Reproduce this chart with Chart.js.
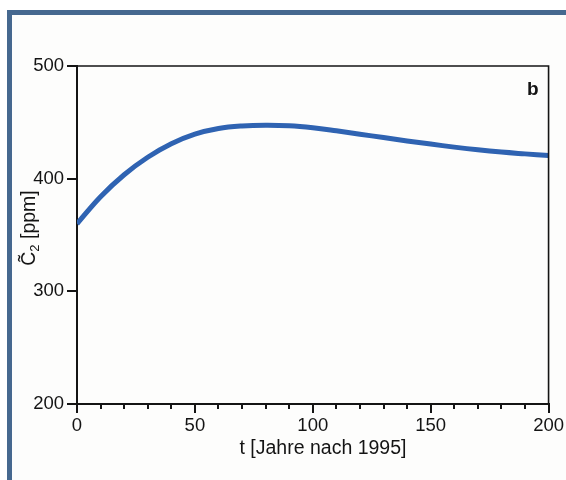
<!DOCTYPE html>
<html>
<head>
<meta charset="utf-8">
<script src="https://cdn.jsdelivr.net/npm/chart.js@4/dist/chart.umd.min.js"></script>
<style>
  html, body { margin: 0; padding: 0; background: #ffffff; }
  #wrap { position: relative; width: 566px; height: 480px; overflow: hidden; }
  #frame {
    position: absolute; left: 7px; top: 10px; right: 0; bottom: 0;
    border-top: 5px solid #46688f; border-left: 5px solid #46688f;
    background: #fdfdfc;
  }
  #c { position: absolute; left: 0; top: 0; }
</style>
</head>
<body>
<div id="wrap">
  <div id="frame"></div>
  <canvas id="c" width="566" height="480"></canvas>
</div>
<script>
// CO2 concentration scenario: years after 1995 vs. ppm
const tYears = [0, 10, 20, 30, 40, 50, 60, 70, 80, 90, 100, 110, 120, 130, 140, 150, 160, 170, 180, 190, 200];
const c2Values = [360, 384, 403.5, 419, 431, 439.5, 444.5, 446.8, 447.5, 447, 445.2, 442.5, 439.5, 436.5, 433.5, 430.7, 428, 425.6, 423.6, 422, 420.5];
const xTickValues = [0, 50, 100, 150, 200];
const yTickValues = [200, 300, 400, 500];
const xTitle = 't [Jahre nach 1995]';
const panelLabel = 'b';

const INK = '#141414';
const FONT = '"Liberation Sans", Arial, Helvetica, sans-serif';

// Minor ticks, frame, panel letter and axis titles
const decorations = {
  id: 'decorations',
  afterDraw(chart) {
    const { ctx, chartArea: a, scales: { x, y } } = chart;
    ctx.save();
    // minor ticks every 10 years
    ctx.strokeStyle = INK;
    ctx.lineWidth = 2;
    for (let v = 10; v < 200; v += 10) {
      if (v % 50 === 0) continue;
      const px = Math.round(x.getPixelForValue(v));
      ctx.beginPath();
      ctx.moveTo(px, a.bottom);
      ctx.lineTo(px, a.bottom + 5);
      ctx.stroke();
    }
    // top and right frame lines
    ctx.lineWidth = 1.6;
    ctx.beginPath();
    ctx.moveTo(a.left, a.top);
    ctx.lineTo(a.right, a.top);
    ctx.lineTo(a.right, a.bottom);
    ctx.stroke();
    // panel letter
    ctx.fillStyle = INK;
    ctx.font = 'bold 19px ' + FONT;
    ctx.textAlign = 'right';
    ctx.textBaseline = 'alphabetic';
    ctx.fillText(panelLabel, a.right - 10, a.top + 29);
    // x axis title
    ctx.font = '19.5px ' + FONT;
    ctx.textAlign = 'center';
    ctx.textBaseline = 'middle';
    ctx.fillText(xTitle, 323, 449);
    // y axis title: C~2 [ppm], rotated
    ctx.translate(30, 228);
    ctx.rotate(-Math.PI / 2);
    ctx.textBaseline = 'middle';
    ctx.textAlign = 'left';
    ctx.font = '19.5px ' + FONT;
    const wC = ctx.measureText('C').width;
    ctx.font = '13px ' + FONT;
    const w2 = ctx.measureText('2').width;
    ctx.font = '19.5px ' + FONT;
    const wRest = ctx.measureText(' [ppm]').width;
    let cx = -(wC + w2 + wRest) / 2;
    ctx.fillText('C\u0303', cx, 0);
    cx += wC;
    ctx.font = '13px ' + FONT;
    ctx.fillText('2', cx, 5);
    cx += w2;
    ctx.font = '19.5px ' + FONT;
    ctx.fillText(' [ppm]', cx, 0);
    ctx.restore();
  }
};

new Chart(document.getElementById('c'), {
  type: 'line',
  data: {
    datasets: [{
      data: tYears.map((t, i) => ({ x: t, y: c2Values[i] })),
      borderColor: '#2f63b2',
      borderWidth: 5,
      pointRadius: 0,
      tension: 0.4,
      fill: false
    }]
  },
  options: {
    responsive: false,
    animation: false,
    layout: { padding: { left: 10, right: 17, top: 66, bottom: 0 } },
    plugins: { legend: { display: false }, tooltip: { enabled: false } },
    scales: {
      x: {
        type: 'linear',
        min: 0, max: 200,
        afterFit(s) { s.height = 76; },
        afterBuildTicks(s) { s.ticks = xTickValues.map(v => ({ value: v })); },
        border: { display: true, color: INK, width: 2 },
        grid: { drawOnChartArea: false, color: INK, lineWidth: 2, tickLength: 9 },
        ticks: { color: INK, font: { family: FONT, size: 18.5 }, padding: 2, maxRotation: 0 }
      },
      y: {
        min: 200, max: 500,
        afterFit(s) { s.width = 67; },
        afterBuildTicks(s) { s.ticks = yTickValues.map(v => ({ value: v })); },
        border: { display: true, color: INK, width: 2 },
        grid: { drawOnChartArea: false, color: INK, lineWidth: 2, tickLength: 10 },
        ticks: { color: INK, font: { family: FONT, size: 18.5 }, padding: 3 }
      }
    }
  },
  plugins: [decorations]
});
</script>
</body>
</html>
